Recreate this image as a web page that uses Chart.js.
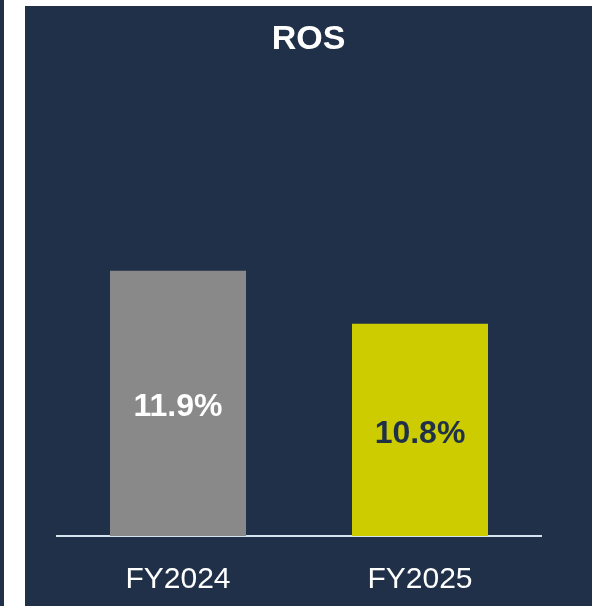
<!DOCTYPE html>
<html>
<head>
<meta charset="utf-8">
<script src="https://cdn.jsdelivr.net/npm/chart.js@4"></script>
<style>
    html, body { margin: 0; padding: 0; background: #ffffff; width: 598px; height: 606px; overflow: hidden; }
    #strip { position: absolute; left: 0; top: 0; width: 4px; height: 606px; background: #1f3048; }
    #panel { position: absolute; left: 25px; top: 6px; width: 567px; height: 600px; background: #1f3048; }
</style>
</head>
<body>
<div id="strip"></div>
<div id="panel"><canvas id="ros" width="567" height="600"></canvas></div>
<script>
// valores de la grafica
const periodos = ['FY2024', 'FY2025'];
const valoresRos = [11.9, 10.8];
const coloresBarra = ['#898989', '#cccc00'];
const coloresTexto = ['#ffffff', '#1f3048'];

// etiquetas dentro de las barras
const etiquetasBarra = {
    id: 'etiquetasBarra',
    afterDatasetsDraw: (chart) => {
        const ctx = chart.ctx;
        const meta = chart.getDatasetMeta(0);
        const fondo = chart.chartArea.bottom;
        ctx.save();
        ctx.font = 'bold 32px "Liberation Sans", Arial, sans-serif';
        ctx.textAlign = 'center';
        ctx.textBaseline = 'middle';
        meta.data.forEach((bar, i) => {
            ctx.fillStyle = coloresTexto[i];
            ctx.fillText(valoresRos[i].toFixed(1) + '%', bar.x, (bar.y + fondo) / 2 + 4);
        });
        ctx.restore();
    }
};

const grafica = new Chart(document.getElementById('ros').getContext('2d'), {
    type: 'bar',
    data: {
        labels: periodos,
        datasets: [{
            label: 'ROS',
            data: valoresRos,
            backgroundColor: coloresBarra,
            borderWidth: 0,
            barPercentage: 0.562,
            categoryPercentage: 1
        }]
    },
    options: {
        responsive: false,
        animation: false,
        layout: {
            padding: { left: 32, right: 32, top: 0, bottom: 0 }
        },
        plugins: {
            legend: { display: false },
            tooltip: { enabled: false },
            title: {
                display: true,
                text: 'ROS',
                color: '#ffffff',
                font: { family: '"Liberation Sans", Arial, sans-serif', size: 34, weight: 'bold' },
                padding: { top: 13.5, bottom: 12.7 }
            }
        },
        scales: {
            x: {
                grid: { display: false },
                border: { display: true, color: '#d6e3ef', width: 2 },
                ticks: {
                    color: '#ffffff',
                    padding: 18,
                    font: { family: '"Liberation Sans", Arial, sans-serif', size: 30 }
                },
                afterFit: (escala) => { escala.height = 70; }
            },
            y: {
                position: 'right',
                min: 6.4,
                max: 16,
                grid: { display: false },
                border: { display: false },
                ticks: { display: false },
                afterFit: (escala) => { escala.width = 19; }
            }
        }
    },
    plugins: [etiquetasBarra]
});
</script>
</body>
</html>
